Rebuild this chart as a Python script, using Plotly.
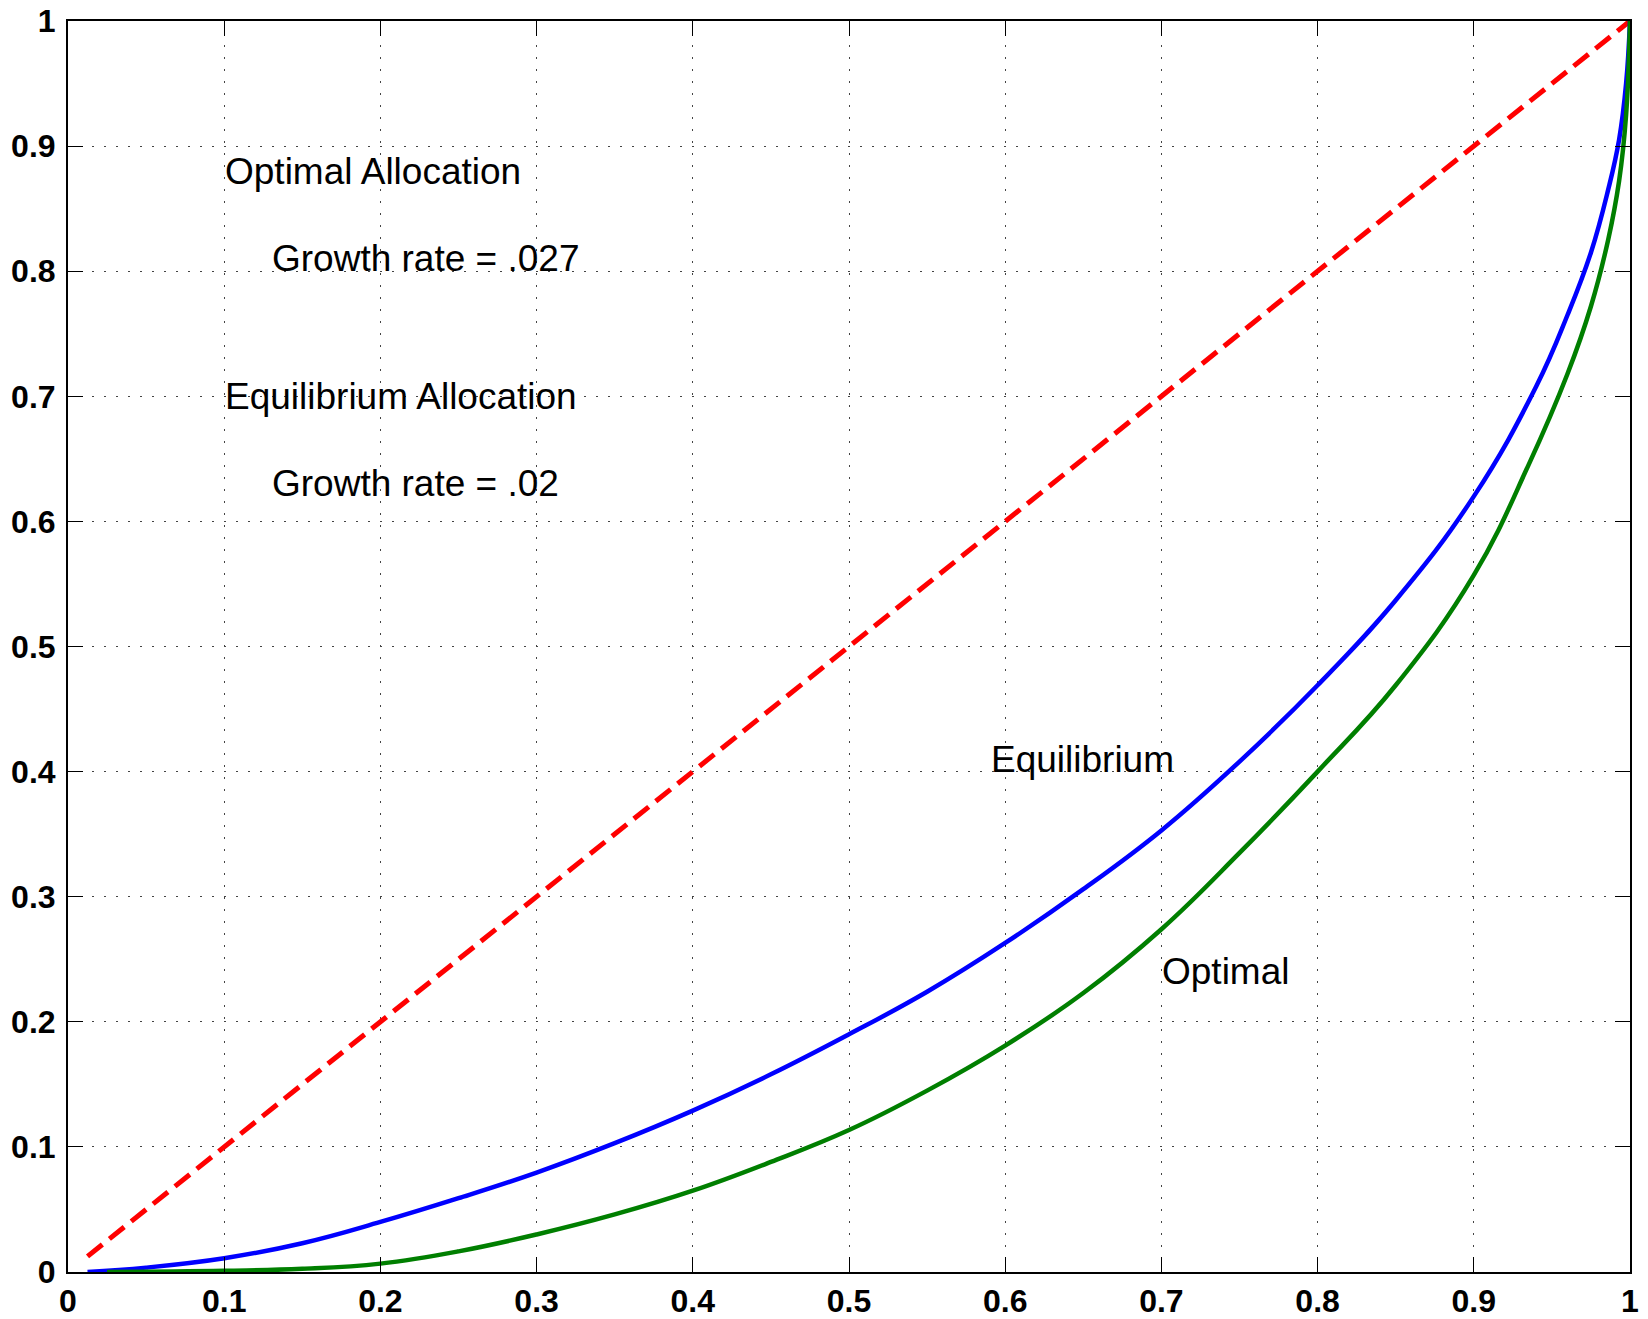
import plotly.graph_objects as go

# Data
eq_x = [0.0125, 0.05, 0.1, 0.15, 0.2, 0.25, 0.3, 0.35, 0.4, 0.45, 0.5, 0.55, 0.6, 0.65,
        0.7, 0.75, 0.8, 0.85, 0.9, 0.94, 0.96, 0.975, 0.986, 0.993, 0.9975, 1.0]
eq_y = [0.0, 0.0035, 0.011, 0.023, 0.040, 0.059, 0.0795, 0.103, 0.129, 0.158, 0.190,
        0.224, 0.263, 0.306, 0.353, 0.408, 0.469, 0.537, 0.620, 0.708, 0.765, 0.815,
        0.865, 0.905, 0.950, 1.0]

opt_x = [0.025, 0.1, 0.15, 0.2, 0.25, 0.3, 0.35, 0.4, 0.45, 0.5, 0.55, 0.6, 0.65, 0.7,
         0.75, 0.8, 0.85, 0.9, 0.935, 0.96, 0.975, 0.986, 0.993, 0.9975, 1.0]
opt_y = [0.0, 0.001, 0.0025, 0.0067, 0.0165, 0.030, 0.046, 0.065, 0.088, 0.1135, 0.145,
         0.181, 0.223, 0.274, 0.335, 0.400, 0.469, 0.557, 0.645, 0.718, 0.772, 0.825,
         0.872, 0.925, 1.0]

eqline_x = [0.0125, 1.0]
eqline_y = [0.0125, 1.0]

tick_vals = [0, 0.1, 0.2, 0.3, 0.4, 0.5, 0.6, 0.7, 0.8, 0.9, 1]
tick_text = ["0", "0.1", "0.2", "0.3", "0.4", "0.5", "0.6", "0.7", "0.8", "0.9", "1"]

labels = [
    ("Optimal Allocation", 0.1, 0.88),
    ("Growth rate = .027", 0.13, 0.81),
    ("Equilibrium Allocation", 0.1, 0.70),
    ("Growth rate = .02", 0.13, 0.63),
    ("Equilibrium", 0.59, 0.41),
    ("Optimal", 0.70, 0.24),
]

FONT = "Liberation Sans, Arial, Helvetica, sans-serif"

fig = go.Figure()
fig.add_trace(go.Scatter(x=eqline_x, y=eqline_y, mode="lines",
                         line=dict(color="#FF0000", width=5, dash="19px,9px"),
                         showlegend=False))
fig.add_trace(go.Scatter(x=eq_x, y=eq_y, mode="lines",
                         line=dict(color="#0000FF", width=4.5, shape="spline", smoothing=1.2),
                         showlegend=False))
fig.add_trace(go.Scatter(x=opt_x, y=opt_y, mode="lines",
                         line=dict(color="#007F00", width=4.5, shape="spline", smoothing=1.2),
                         showlegend=False))

for txt, x, y in labels:
    fig.add_annotation(x=x, y=y, text=txt, showarrow=False, xanchor="left",
                       yanchor="middle", font=dict(family=FONT, size=37, color="black"),
                       borderpad=0)

axis_common = dict(
    range=[0, 1], tickvals=tick_vals, ticktext=tick_text,
    showline=True, linecolor="black", linewidth=2, mirror="ticks",
    ticks="inside", ticklen=15, tickwidth=1.2, tickcolor="black",
    showgrid=True, gridcolor="#444444", gridwidth=1, griddash="2px,10px",
    zeroline=False, automargin=False, ticklabeloverflow="allow",
    tickfont=dict(family=FONT, size=32, color="black", weight="bold"),
)

fig.update_xaxes(**axis_common, ticklabelstandoff=0)
fig.update_yaxes(**axis_common, ticklabelstandoff=4)

fig.update_layout(
    width=1648, height=1319,
    margin=dict(l=68, r=18, t=21, b=47),
    plot_bgcolor="white", paper_bgcolor="white",
    showlegend=False,
)

# remove the default page margin so the figure fills the window exactly
fig.write_html("out.html", config={"displayModeBar": False},
               post_script="document.body.style.margin='0';")
